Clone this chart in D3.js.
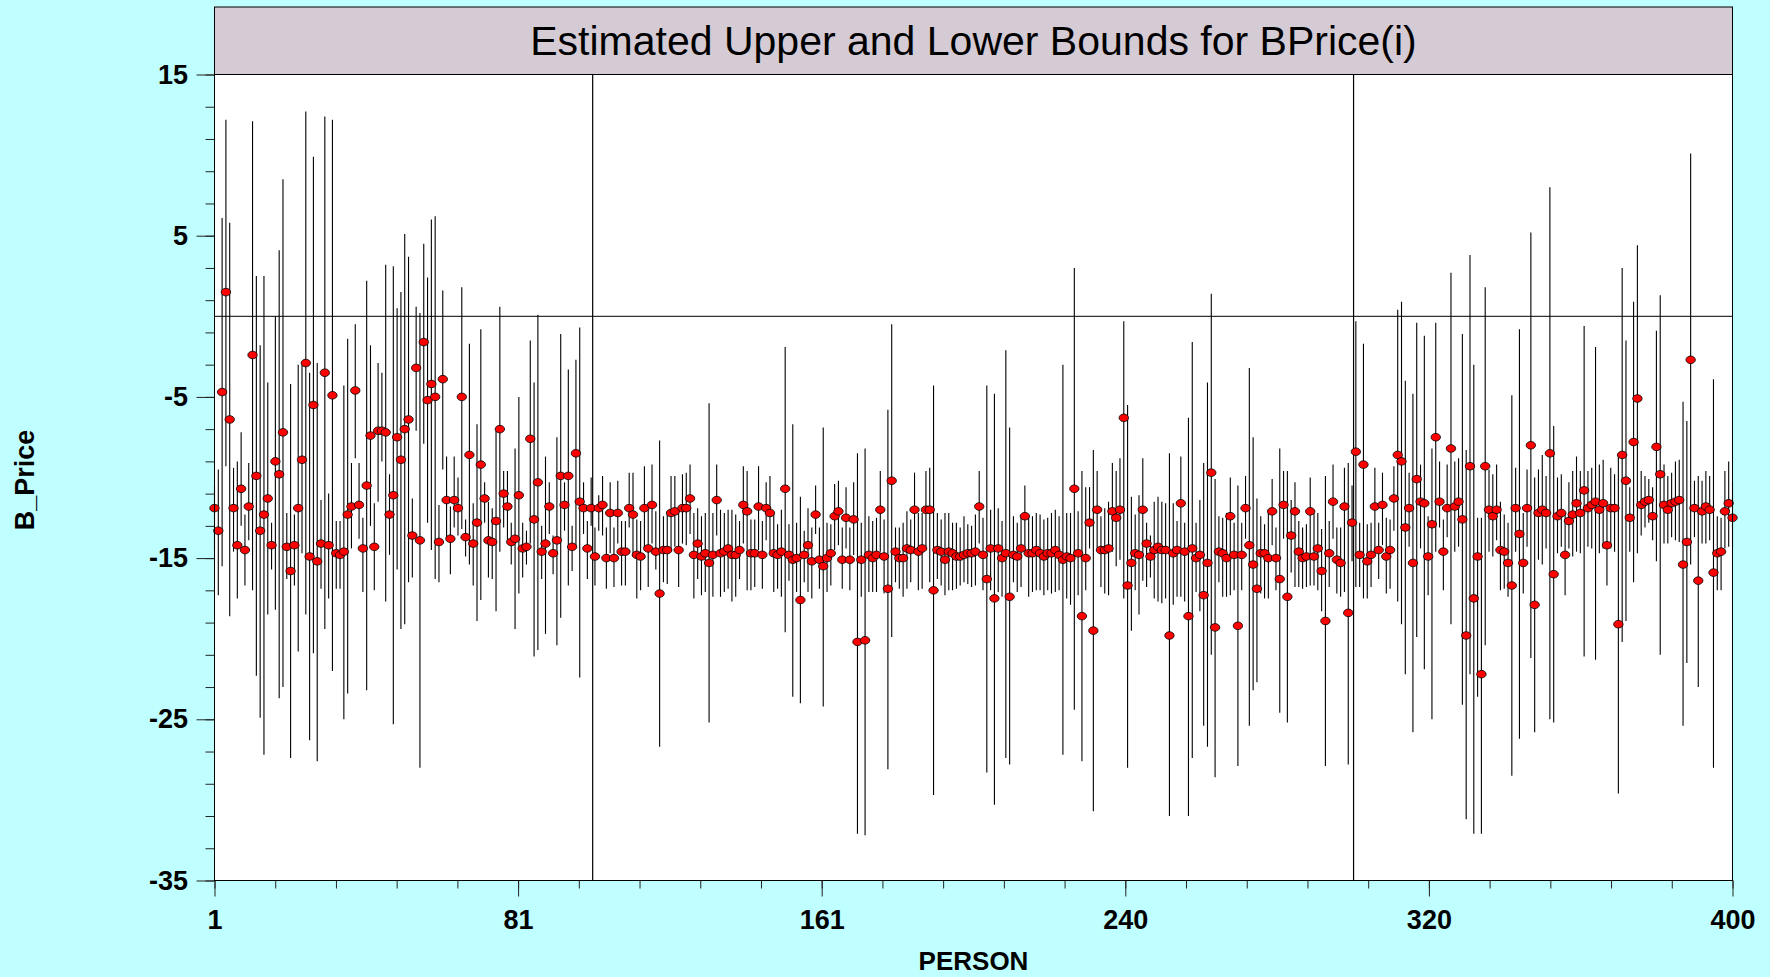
<!DOCTYPE html>
<html>
<head>
<meta charset="utf-8">
<script src="https://cdn.jsdelivr.net/npm/d3@7/dist/d3.min.js"></script>
<style>
  html, body { margin: 0; padding: 0; background: #c0ffff; }
  svg { display: block; font-family: "Liberation Sans", Arial, sans-serif; }
</style>
</head>
<body>
<div id="chart"></div>
<script>
'use strict';

// point estimate of B_Price for persons 1..400
var estimate = [
  -11.9,-13.3,-4.7,1.5,-6.4,-11.9,-14.2,-10.7,-14.5,-11.8,-2.4,-9.9,-13.3,-12.3,-11.3,-14.2,-9.0,-9.8,-7.2,-14.3,
  -15.8,-14.2,-11.9,-8.9,-2.9,-14.9,-5.5,-15.2,-14.1,-3.5,-14.2,-4.9,-14.7,-14.8,-14.6,-12.3,-11.8,-4.6,-11.7,-14.4,
  -10.5,-7.4,-14.3,-7.1,-7.1,-7.2,-12.3,-11.1,-7.5,-8.9,-7.0,-6.4,-13.6,-3.2,-13.9,-1.6,-5.2,-4.2,-5.0,-14.0,
  -3.9,-11.4,-13.8,-11.4,-11.9,-5.0,-13.7,-8.6,-14.1,-12.8,-9.2,-11.3,-13.9,-14.0,-12.7,-7.0,-11.0,-11.8,-14.0,-13.8,
  -11.1,-14.4,-14.3,-7.6,-12.6,-10.3,-14.6,-14.1,-11.8,-14.7,-13.9,-9.9,-11.7,-9.9,-14.3,-8.5,-11.5,-11.9,-14.4,-11.9,
  -14.9,-11.9,-11.7,-15.0,-12.2,-15.0,-12.2,-14.6,-14.6,-11.9,-12.3,-14.8,-14.9,-11.9,-14.4,-11.7,-14.6,-17.2,-14.5,-14.5,
  -12.2,-12.1,-14.5,-11.9,-11.9,-11.3,-14.8,-14.1,-14.9,-14.7,-15.3,-14.8,-11.4,-14.7,-14.6,-14.4,-14.8,-14.8,-14.5,-11.7,
  -12.1,-14.7,-14.7,-11.8,-14.8,-11.9,-12.2,-14.7,-14.8,-14.6,-10.7,-14.8,-15.1,-15.0,-17.6,-14.8,-14.2,-15.2,-12.3,-15.1,
  -15.5,-15.0,-14.7,-12.4,-12.1,-15.1,-12.5,-15.1,-12.6,-20.2,-15.1,-20.1,-14.8,-15.0,-14.8,-12.0,-14.9,-16.9,-10.2,-14.6,
  -15.0,-15.0,-14.4,-14.5,-12.0,-14.6,-14.4,-12.0,-12.0,-17.0,-14.5,-14.6,-15.1,-14.6,-14.7,-14.9,-14.9,-14.8,-14.7,-14.7,
  -14.6,-11.8,-14.8,-16.3,-14.4,-17.5,-14.4,-15.0,-14.7,-17.4,-14.8,-14.9,-14.4,-12.4,-14.7,-14.7,-14.5,-14.7,-14.9,-14.7,
  -14.7,-14.5,-14.8,-15.1,-14.9,-15.0,-10.7,-14.7,-18.6,-15.0,-12.8,-19.5,-12.0,-14.5,-14.5,-14.4,-12.1,-12.5,-12.0,-6.3,
  -16.7,-15.3,-14.7,-14.8,-12.0,-14.1,-14.9,-14.5,-14.3,-14.5,-14.5,-19.8,-14.7,-14.5,-11.6,-14.6,-18.6,-14.4,-15.0,-14.8,
  -17.3,-15.3,-9.7,-19.3,-14.6,-14.7,-15.0,-12.4,-14.8,-19.2,-14.8,-11.9,-14.2,-15.4,-16.9,-14.7,-14.7,-15.0,-12.1,-15.0,
  -16.3,-11.7,-17.4,-13.6,-12.1,-14.6,-15.0,-14.9,-12.1,-14.9,-14.4,-15.8,-18.9,-14.7,-11.5,-15.1,-15.3,-11.8,-18.4,-12.8,
  -8.4,-14.8,-9.2,-15.2,-14.8,-11.8,-14.5,-11.7,-14.9,-14.5,-11.3,-8.6,-9.0,-13.1,-11.9,-15.3,-10.1,-11.5,-11.6,-14.9,
  -12.9,-7.5,-11.5,-14.6,-11.9,-8.2,-11.8,-11.5,-12.6,-19.8,-9.3,-17.5,-14.9,-22.2,-9.3,-12.0,-12.4,-12.0,-14.5,-14.6,
  -15.3,-16.7,-11.9,-13.5,-15.3,-11.9,-8.0,-17.9,-12.2,-12.0,-12.2,-8.5,-16.0,-12.4,-12.2,-14.8,-12.7,-12.3,-11.6,-12.2,
  -10.8,-11.9,-11.7,-11.5,-12.0,-11.6,-14.2,-11.9,-11.9,-19.1,-8.6,-10.2,-12.5,-7.8,-5.1,-11.7,-11.5,-11.4,-12.4,-8.1,
  -9.8,-11.7,-12.0,-11.6,-11.5,-11.4,-15.4,-14.0,-2.7,-11.9,-16.4,-12.1,-11.8,-12.0,-15.9,-14.7,-14.6,-12.1,-11.6,-12.5
];

var lowerBound = [
  -14.5,-17.3,-15.5,-9.3,-18.6,-14.6,-17.5,-13.0,-16.7,-13.9,-17.0,-22.3,-24.9,-27.2,-18.5,-15.7,-18.2,-23.7,-23.0,-16.3,
  -27.4,-16.7,-20.8,-14.7,-18.5,-26.3,-20.9,-27.6,-16.9,-19.4,-17.5,-22.0,-16.9,-16.9,-25.0,-23.4,-14.4,-8.8,-13.8,-17.1,
  -23.2,-13.0,-17.0,-11.5,-9.0,-17.7,-14.8,-25.3,-15.7,-19.4,-19.1,-16.5,-16.2,-7.1,-28.0,-7.9,-12.8,-14.5,-16.3,-16.5,
  -9.5,-13.9,-16.0,-13.1,-13.6,-13.2,-14.9,-15.4,-16.7,-18.9,-17.6,-12.8,-16.2,-16.3,-18.3,-14.6,-13.1,-13.9,-15.4,-19.4,
  -17.2,-16.2,-15.4,-14.1,-21.1,-20.7,-16.3,-19.7,-13.5,-16.0,-20.4,-18.7,-13.3,-16.7,-15.8,-14.3,-22.4,-13.5,-16.3,-13.0,
  -16.7,-13.3,-13.6,-16.9,-14.7,-16.8,-14.1,-16.7,-16.7,-13.1,-14.9,-17.5,-17.0,-14.4,-16.8,-14.1,-15.7,-26.7,-16.5,-16.6,
  -14.6,-14.3,-16.8,-14.1,-14.2,-13.5,-17.5,-16.3,-17.3,-17.1,-25.2,-17.4,-13.6,-17.4,-17.1,-16.9,-17.7,-17.4,-16.3,-14.1,
  -17.0,-17.0,-16.8,-14.5,-16.9,-13.9,-14.6,-17.1,-16.9,-17.4,-19.6,-16.4,-23.6,-17.1,-24.0,-16.5,-17.1,-17.5,-13.5,-16.9,
  -24.2,-17.1,-16.7,-14.5,-14.2,-16.9,-14.4,-17.0,-14.8,-32.1,-17.4,-32.2,-17.1,-17.1,-17.1,-14.6,-17.2,-28.1,-19.9,-16.5,
  -16.9,-17.4,-16.9,-16.5,-14.5,-17.0,-16.9,-14.3,-16.5,-29.7,-16.3,-16.7,-17.3,-17.0,-17.0,-16.9,-16.7,-16.5,-16.6,-16.8,
  -16.7,-14.1,-17.0,-28.3,-17.0,-30.3,-17.1,-17.4,-27.4,-27.8,-16.5,-17.1,-16.8,-14.3,-17.4,-17.1,-17.0,-17.0,-17.3,-17.0,
  -17.2,-17.1,-17.0,-27.2,-17.5,-17.9,-24.4,-17.3,-27.6,-17.0,-14.4,-30.7,-14.4,-16.8,-17.2,-17.3,-14.6,-15.5,-15.1,-17.5,
  -28.0,-19.5,-17.0,-18.5,-16.4,-16.8,-16.2,-17.5,-17.7,-17.8,-17.5,-31.0,-17.9,-17.4,-17.4,-17.7,-31.0,-27.4,-17.1,-18.3,
  -25.4,-26.7,-21.0,-28.6,-16.5,-17.4,-17.4,-17.3,-17.0,-27.9,-17.0,-13.8,-25.4,-23.2,-22.7,-17.2,-17.5,-17.5,-14.2,-17.0,
  -24.6,-13.8,-25.2,-15.9,-16.8,-16.8,-16.9,-16.8,-16.7,-16.7,-17.0,-18.3,-27.9,-16.8,-13.8,-17.2,-17.4,-17.1,-27.8,-15.2,
  -16.8,-16.8,-17.5,-17.5,-16.8,-14.6,-16.3,-14.2,-17.2,-16.9,-13.3,-17.7,-19.1,-22.2,-14.3,-25.8,-19.9,-14.4,-21.9,-17.3,
  -25.0,-14.6,-13.1,-17.0,-13.7,-19.1,-14.6,-14.3,-24.1,-31.2,-22.2,-32.1,-23.6,-32.1,-20.4,-14.6,-14.9,-13.9,-17.0,-16.9,
  -17.4,-28.5,-14.6,-26.2,-17.2,-14.3,-21.2,-25.8,-15.1,-15.4,-14.4,-25.0,-25.2,-14.7,-14.3,-17.3,-14.4,-14.9,-14.6,-14.7,
  -21.1,-14.3,-14.4,-21.3,-14.7,-14.4,-16.7,-14.4,-14.6,-29.6,-20.2,-18.9,-14.6,-16.5,-14.7,-13.6,-13.1,-12.8,-13.9,-15.2,
  -21.0,-14.1,-14.1,-13.7,-13.9,-14.0,-25.4,-21.5,-15.4,-13.7,-23.0,-14.1,-14.1,-13.9,-28.0,-17.0,-17.0,-14.4,-14.3,-14.3
];

var upperBound = [
  -10.5,-9.5,6.1,12.2,5.8,-9.4,-9.0,-7.2,-12.3,-9.1,12.1,2.5,-1.8,2.5,-4.1,-12.8,0.0,4.1,8.5,-12.2,
  -4.2,-12.3,-3.0,-3.0,12.7,-3.5,9.9,-2.9,-11.4,12.4,-11.0,12.2,-12.7,-12.7,-4.3,-1.4,-9.1,-0.5,-9.1,-12.5,
  2.2,-1.8,-11.6,-2.9,-3.5,3.2,-9.8,3.1,0.5,1.5,5.1,3.7,-11.3,0.6,0.2,4.5,2.4,6.0,6.2,-11.7,
  1.6,-8.7,-11.8,-8.7,-10.0,1.8,-12.6,-1.7,-11.6,-6.7,-0.8,-10.3,-11.5,-11.9,-7.1,0.6,-9.6,-9.6,-12.8,-8.2,
  -5.0,-12.8,-13.3,-1.5,-4.1,0.1,-13.0,-8.7,-10.3,-13.6,-7.5,-1.1,-10.3,-3.3,-13.0,-2.7,-0.7,-10.3,-12.7,-10.0,
  -13.1,-11.1,-9.9,-13.1,-10.3,-13.1,-10.2,-12.7,-12.7,-9.7,-9.7,-12.6,-12.7,-9.3,-11.9,-9.2,-12.1,-7.7,-12.4,-12.2,
  -9.9,-9.9,-12.2,-9.8,-9.7,-9.2,-12.2,-11.9,-12.4,-12.2,-5.4,-12.2,-9.2,-12.0,-12.2,-12.0,-12.0,-12.3,-12.7,-9.3,
  -9.6,-12.6,-12.6,-9.3,-12.7,-10.3,-9.9,-12.3,-12.9,-12.0,-1.9,-12.9,-6.7,-12.8,-11.2,-13.3,-11.9,-13.1,-10.5,-13.1,
  -6.9,-12.8,-12.9,-10.4,-10.2,-13.1,-10.6,-13.1,-10.3,-8.5,-12.8,-8.2,-12.4,-12.7,-12.5,-9.6,-12.6,-5.8,-0.5,-13.1,
  -13.1,-12.8,-12.1,-12.6,-9.7,-12.2,-12.2,-9.6,-9.4,-4.3,-12.2,-12.6,-12.2,-12.2,-12.8,-12.8,-13.1,-12.4,-12.9,-13.0,
  -12.3,-9.6,-12.5,-4.3,-12.0,-4.8,-11.9,-12.7,-2.1,-6.9,-12.4,-12.8,-12.4,-10.5,-12.4,-12.4,-12.2,-12.3,-12.6,-12.5,
  -12.2,-12.0,-12.4,-3.0,-12.2,-12.2,3.0,-12.1,-9.6,-10.6,-10.6,-8.3,-9.6,-12.4,-11.9,-11.5,-9.1,-9.6,-8.8,-0.3,
  -5.5,-11.2,-12.3,-11.1,-8.8,-12.8,-13.6,-11.5,-11.2,-11.5,-11.6,-8.5,-11.6,-12.7,-8.7,-12.8,-6.3,-1.6,-12.8,-11.4,
  -9.1,-4.1,1.4,-10.1,-12.4,-12.5,-12.2,-10.0,-12.8,-10.5,-12.8,-9.9,-3.2,-7.5,-11.3,-12.4,-12.9,-12.0,-10.1,-13.1,
  -8.2,-9.6,-9.6,-11.4,-10.3,-12.7,-13.1,-12.9,-10.0,-12.2,-12.2,-13.2,-9.9,-12.7,-9.2,-13.1,-13.1,-9.4,-9.1,-10.5,
  -0.3,-12.8,-1.7,-12.9,-12.8,-9.4,-12.8,-9.7,-12.5,-12.6,-9.3,0.4,0.9,-4.0,-9.7,-4.8,-0.4,-9.2,-1.2,-12.4,
  -8.2,-0.4,-9.0,-12.6,-9.2,2.7,-9.0,-8.8,-1.1,-8.3,3.8,-3.0,-12.5,-12.5,1.8,-9.5,-9.8,-9.2,-11.5,-12.3,
  -12.8,-4.9,-9.4,-0.8,-12.2,-9.5,5.2,-10.0,-9.5,-8.6,-9.9,8.0,-6.8,-10.0,-9.8,-12.2,-10.3,-9.6,-8.7,-9.6,
  -0.6,-9.6,-9.4,-1.9,-9.2,-8.9,-12.0,-9.4,-9.8,-8.5,3.0,-1.5,-10.6,0.9,4.4,-9.6,-9.9,-10.1,-10.6,-0.9,
  1.3,-9.2,-9.9,-9.7,-9.0,-8.9,-5.3,-6.5,10.1,-10.2,-9.9,-10.2,-9.6,-9.9,-3.9,-12.4,-12.5,-9.6,-9.0,-10.3
];

var yTickValues = [15, 5, -5, -15, -25, -35];
var xTickLabels = ['1', '81', '161', '240', '320', '400'];
var refPersons = [100.4, 300.4];
var refValue = 0;
var titleText = 'Estimated Upper and Lower Bounds for BPrice(i)';

var chartWidth = 1770,
    chartHeight = 977,
    margin = {top: 74.5, right: 37.5, bottom: 96.5, left: 214.5},
    width = chartWidth - margin.left - margin.right,
    height = chartHeight - margin.top - margin.bottom;

var svg = d3.select('#chart').append('svg')
    .attr('width', chartWidth)
    .attr('height', chartHeight);

svg.append('rect')
    .attr('width', chartWidth)
    .attr('height', chartHeight)
    .attr('fill', '#c0ffff');

// title strip above the plot
svg.append('rect')
    .attr('x', margin.left)
    .attr('y', 7)
    .attr('width', width)
    .attr('height', margin.top - 7)
    .attr('fill', '#d4cbd4')
    .attr('stroke', '#000')
    .attr('stroke-width', 1);

svg.append('text')
    .attr('x', margin.left + width / 2)
    .attr('y', 55)
    .attr('text-anchor', 'middle')
    .attr('font-size', 41)
    .attr('fill', '#000')
    .text(titleText);

var x = d3.scaleLinear().domain([1, 400]).range([0, width]),
    y = d3.scaleLinear().domain([-35, 15]).range([height, 0]);

var g = svg.append('g')
    .attr('transform', 'translate(' + margin.left + ',' + margin.top + ')');

g.append('rect')
    .attr('width', width)
    .attr('height', height)
    .attr('fill', '#fff');

// y axis: minor ticks every 2, labelled majors every 10
g.append('g')
    .attr('class', 'axis axis--y-minor')
    .call(d3.axisLeft(y).tickValues(d3.range(-35, 16, 2)).tickSize(9).tickFormat(''));

g.append('g')
    .attr('class', 'axis axis--y')
    .call(d3.axisLeft(y).tickValues(yTickValues).tickSize(18).tickPadding(8.5)
      .tickFormat(function(d) { return d; }));

// x axis: 5 labelled intervals, each split in 5
var xStep = 399 / 5;
g.append('g')
    .attr('class', 'axis axis--x-minor')
    .attr('transform', 'translate(0,' + height + ')')
    .call(d3.axisBottom(x).tickValues(d3.range(0, 26).map(function(k) { return 1 + k * xStep / 5; }))
      .tickSize(8).tickFormat(''));

g.append('g')
    .attr('class', 'axis axis--x')
    .attr('transform', 'translate(0,' + height + ')')
    .call(d3.axisBottom(x).tickValues(xTickLabels.map(function(d, k) { return 1 + k * xStep; }))
      .tickSize(16).tickPadding(13.5)
      .tickFormat(function(d, k) { return xTickLabels[k]; }));

g.selectAll('.axis .domain').remove();
g.selectAll('.axis line').attr('stroke', '#222');
g.selectAll('.axis text')
    .attr('font-family', '"Liberation Sans", Arial, sans-serif')
    .attr('font-size', 27)
    .attr('font-weight', 'bold')
    .attr('fill', '#000');

// reference lines
g.append('line')
    .attr('x1', 0).attr('x2', width)
    .attr('y1', y(refValue)).attr('y2', y(refValue))
    .attr('stroke', '#000').attr('stroke-width', 1);

g.selectAll('.ref')
  .data(refPersons)
  .enter().append('line')
    .attr('class', 'ref')
    .attr('x1', function(d) { return x(d); })
    .attr('x2', function(d) { return x(d); })
    .attr('y1', 0).attr('y2', height)
    .attr('stroke', '#000').attr('stroke-width', 1.2);

var persons = estimate.map(function(d, i) { return i + 1; });

g.selectAll('.bound')
  .data(persons)
  .enter().append('line')
    .attr('class', 'bound')
    .attr('x1', function(d) { return x(d); })
    .attr('x2', function(d) { return x(d); })
    .attr('y1', function(d) { return y(lowerBound[d - 1]); })
    .attr('y2', function(d) { return y(upperBound[d - 1]); })
    .attr('stroke', '#000')
    .attr('stroke-width', 1.1);

g.selectAll('.est')
  .data(persons)
  .enter().append('ellipse')
    .attr('class', 'est')
    .attr('cx', function(d) { return x(d); })
    .attr('cy', function(d) { return y(estimate[d - 1]); })
    .attr('rx', 4.7)
    .attr('ry', 3.8)
    .attr('fill', '#ff0000')
    .attr('stroke', '#000')
    .attr('stroke-width', 0.8);

// plot frame
g.append('rect')
    .attr('width', width)
    .attr('height', height)
    .attr('fill', 'none')
    .attr('stroke', '#000')
    .attr('stroke-width', 1);

// axis titles
svg.append('text')
    .attr('x', margin.left + width / 2)
    .attr('y', 970)
    .attr('text-anchor', 'middle')
    .attr('font-size', 26)
    .attr('font-weight', 'bold')
    .text('PERSON');

svg.append('text')
    .attr('transform', 'translate(34,480) rotate(-90)')
    .attr('text-anchor', 'middle')
    .attr('font-size', 27)
    .attr('font-weight', 'bold')
    .text('B_Price');
</script>
</body>
</html>
